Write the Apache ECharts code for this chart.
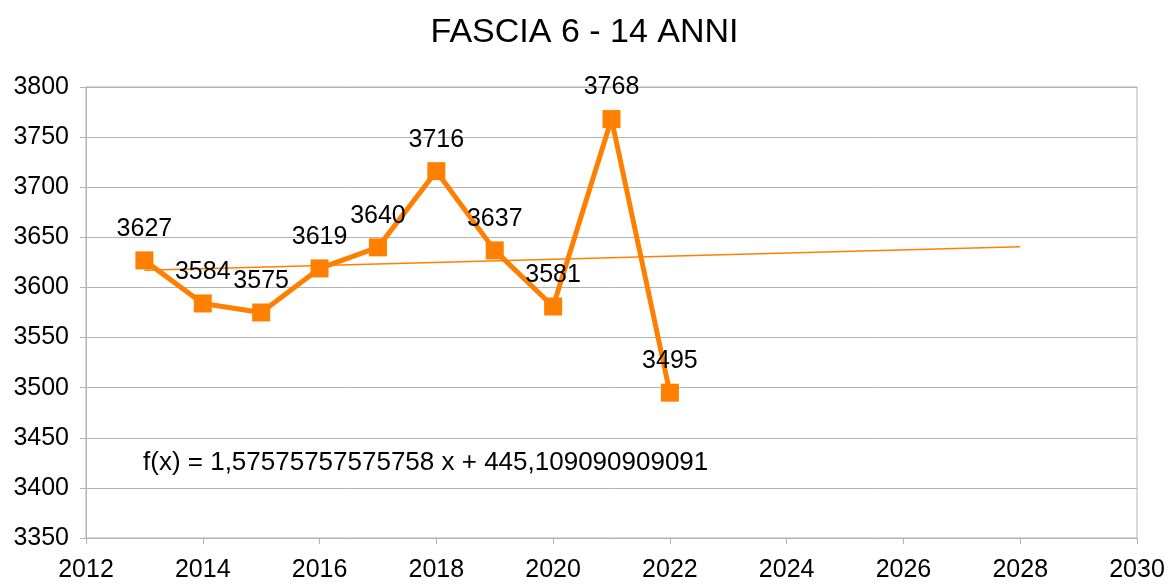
<!DOCTYPE html>
<html><head><meta charset="utf-8">
<script src="https://cdn.jsdelivr.net/npm/echarts@6/dist/echarts.min.js"></script>
<style>html,body{margin:0;padding:0;background:#fff}#c{width:1169px;height:585px}</style>
</head><body><div id="c"></div>
<script>
const years = [2013, 2014, 2015, 2016, 2017, 2018, 2019, 2020, 2021, 2022];
const values = [3627, 3584, 3575, 3619, 3640, 3716, 3637, 3581, 3768, 3495];
const trendYears = [2013, 2028];
const trendValues = [3617.1, 3640.7];
const equationText = 'f(x) = 1,57575757575758 x + 445,109090909091';
const titleText = 'FASCIA 6 - 14 ANNI';

const chart = echarts.init(document.getElementById('c'));
const font = 'Liberation Sans, Arial, sans-serif';
chart.setOption({
  animation: false,
  title: { text: titleText, left: 'center', top: 11, textStyle: { fontFamily: font, fontSize: 34, fontWeight: 'normal', color: '#000' } },
  grid: { left: 86, right: 32, top: 87, bottom: 47, show: true, borderColor: '#b3b3b3', borderWidth: 1 },
  xAxis: {
    type: 'value', min: 2012, max: 2030, interval: 2,
    axisLine: { show: true, lineStyle: { color: '#b3b3b3' } },
    axisTick: { show: true, length: 6, lineStyle: { color: '#b3b3b3' } },
    splitLine: { show: false },
    axisLabel: { fontFamily: font, fontSize: 25, color: '#000', margin: 20, formatter: v => String(v) }
  },
  yAxis: {
    type: 'value', min: 3350, max: 3800, interval: 50,
    axisLine: { show: true, lineStyle: { color: '#b3b3b3' } },
    axisTick: { show: true, length: 6, lineStyle: { color: '#b3b3b3' } },
    splitLine: { show: true, lineStyle: { color: '#b3b3b3' } },
    axisLabel: { fontFamily: font, fontSize: 25, color: '#000', margin: 17, formatter: v => String(v) }
  },
  series: [
    {
      type: 'line', data: trendYears.map((y, i) => [y, trendValues[i]]),
      showSymbol: false, lineStyle: { color: '#ff8000', width: 1.5 }, z: 1, silent: true
    },
    {
      type: 'line', data: years.map((y, i) => [y, values[i]]),
      symbol: 'rect', symbolSize: 18,
      itemStyle: { color: '#ff8000' },
      lineStyle: { color: '#ff8000', width: 5 },
      label: { show: true, position: 'top', distance: 10, fontFamily: font, fontSize: 25, color: '#000', formatter: p => String(p.value[1]) },
      z: 2
    }
  ],
  graphic: [
    { type: 'text', left: 143, top: 450, style: { text: equationText, fontFamily: font, fontSize: 26, fill: '#000' } }
  ]
});
</script></body></html>
